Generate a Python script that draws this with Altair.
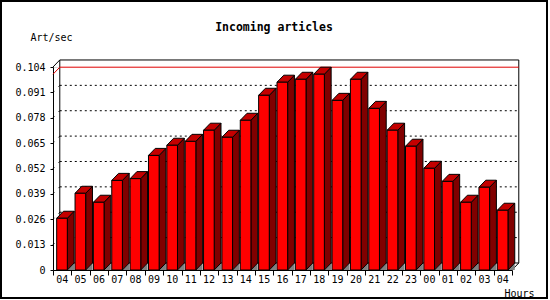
import altair as alt
import pandas as pd

# ---------------- data ----------------
hours = ["04", "05", "06", "07", "08", "09", "10", "11", "12", "13", "14", "15",
         "16", "17", "18", "19", "20", "21", "22", "23", "00", "01", "02", "03", "04"]
values = [0.0265, 0.0393, 0.0347, 0.0459, 0.0468, 0.0587, 0.0639, 0.0659, 0.0716,
          0.0680, 0.0767, 0.0895, 0.0962, 0.0977, 0.1003, 0.0869, 0.0977, 0.0828,
          0.0716, 0.0634, 0.0521, 0.0454, 0.0347, 0.0424, 0.0306]
y_ticks = [0, 0.013, 0.026, 0.039, 0.052, 0.065, 0.078, 0.091, 0.104]
chart_title = "Incoming articles"
y_title = "Art/sec"
x_title = "Hours"

# ---------------- style / 3D geometry ----------------
FONT = "DejaVu Sans Mono"
N = len(hours)
YMAX = y_ticks[-1]
DX = 0.37      # depth offset along x (band units)
DY = 0.0036    # depth offset along y (value units)
BL, BR = 0.2, 0.78  # bar front face inside each band
FRONT, TOP, SIDE, FLOOR = "#ff0000", "#c40000", "#800000", "#808080"

W, H = 459, 203
PAD = {"left": 53, "top": 67, "right": 550 - 53 - W, "bottom": 300 - 67 - H}

xs = alt.Scale(domain=[0, N], nice=False, zero=False)
ys = alt.Scale(domain=[0, YMAX], nice=False, zero=False)

# ---------------- axes (same definition in every layer so they merge) ----------------
x_axis = alt.Axis(
    values=list(range(N + 1)), labels=False, ticks=True, tickSize=5,
    tickColor="black", domain=True, domainColor="black", grid=False,
    title=x_title, titleFont=FONT, titleFontSize=10, titleFontWeight="normal",
    titleColor="black", titleAlign="right", titleBaseline="alphabetic",
    titleX=481, titleY=26.5, titleAnchor="end",
)
y_axis = alt.Axis(
    values=y_ticks, format=".3~f",
    tickSize=3, labelPadding=5, grid=False, labelOverlap=False, labelFlush=False,
    domain=True, domainColor="black", tickColor="black", labelColor="black",
    labelFont=FONT, labelFontSize=10,
    title=y_title, titleAngle=0, titleFont=FONT, titleFontSize=10,
    titleFontWeight="normal", titleColor="black", titleAlign="left",
    titleBaseline="alphabetic", titleX=-23, titleY=-27,
)


def X(f, **kw):
    return alt.X(f, type="quantitative", scale=xs, axis=x_axis, **kw)


def Y(f, **kw):
    return alt.Y(f, type="quantitative", scale=ys, axis=y_axis, **kw)


# ---------------- tables built from the arrays ----------------
front = pd.DataFrame({"i": range(N), "v": values, "hour": hours})
front["x0"] = front["i"] + BL
front["x1"] = front["i"] + BR
front["xc"] = front["i"] + 0.5
front["zero"] = 0.0

side_rows, tri_rows, top_rows = [], [], []
for i, v in enumerate(values):
    side_rows.append({"bar": i, "xs": i + BR, "lo": 0.0, "hi": v})
    side_rows.append({"bar": i, "xs": i + BR + DX, "lo": DY, "hi": v + DY})
    tri_rows.append({"bar": i, "xs": i + BR, "lo": 0.0, "hi": 0.0})
    tri_rows.append({"bar": i, "xs": i + BR + DX, "lo": 0.0, "hi": DY})
    top_rows.append({"bar": i, "yt": v, "xl": i + BL, "xr": i + BR})
    top_rows.append({"bar": i, "yt": v + DY, "xl": i + BL + DX, "xr": i + BR + DX})
side = pd.DataFrame(side_rows)
tri = pd.DataFrame(tri_rows)
topf = pd.DataFrame(top_rows)

wall = pd.DataFrame([{"x": DX, "x2": N + DX, "y": DY, "y2": YMAX + DY}])
inner = y_ticks[1:-1]
grid = pd.DataFrame({"x": [DX] * len(inner), "x2": [N + DX] * len(inner),
                     "y": [t + DY for t in inner]})
stubs = pd.DataFrame({"x": [0.0] * len(inner), "x2": [DX] * len(inner),
                      "y": inner, "y2": [t + DY for t in inner]})
vmax = max(values)
redline = pd.DataFrame([
    {"x": 0.0, "x2": DX, "y": vmax, "y2": vmax + DY},
    {"x": DX, "x2": N + DX, "y": vmax + DY, "y2": vmax + DY},
])
edges = pd.DataFrame([
    {"x": 0.0, "x2": DX, "y": YMAX, "y2": YMAX + DY},
    {"x": float(N), "x2": N + DX, "y": 0.0, "y2": DY},
])

# ---------------- layers ----------------
wall_l = alt.Chart(wall).mark_rect(fill="white", stroke="black", strokeWidth=1).encode(
    x=X("x"), x2="x2", y=Y("y"), y2="y2")

grid_l = alt.Chart(grid).mark_rule(color="black", strokeDash=[2, 3], strokeWidth=1).encode(
    x=X("x"), x2="x2", y=Y("y"))
stub_l = alt.Chart(stubs).mark_rule(color="black", strokeDash=[2, 6], strokeWidth=1).encode(
    x=X("x"), x2="x2", y=Y("y"), y2="y2")
red_l = alt.Chart(redline).mark_rule(color="#e00000", strokeWidth=1).encode(
    x=X("x"), x2="x2", y=Y("y"), y2="y2")
edge_l = alt.Chart(edges).mark_rule(color="black", strokeWidth=1).encode(
    x=X("x"), x2="x2", y=Y("y"), y2="y2")

tri_l = alt.Chart(tri).mark_area(fill=FLOOR, strokeWidth=0, interpolate="linear").encode(
    x=X("xs"), y=Y("lo", stack=None), y2="hi", detail="bar:N")
side_l = alt.Chart(side).mark_area(fill=SIDE, stroke="black", strokeWidth=1,
                                   interpolate="linear").encode(
    x=X("xs"), y=Y("lo", stack=None), y2="hi", detail="bar:N")
top_l = alt.Chart(topf).mark_area(fill=TOP, stroke="black", strokeWidth=1,
                                  orient="horizontal", interpolate="linear").encode(
    y=Y("yt"), x=X("xl", stack=None), x2="xr", detail="bar:N")

front_l = alt.Chart(front).mark_rect(fill=FRONT, stroke="black", strokeWidth=1).encode(
    x=X("x0"), x2="x1", y=Y("zero"), y2="v")

hour_l = alt.Chart(front).mark_text(font=FONT, fontSize=10, color="black",
                                    baseline="alphabetic", align="center", dy=13).encode(
    x=X("xc"), y=Y("zero"), text="hour:N")

# outer frame of the picture
border = alt.Chart(pd.DataFrame({"a": [0]})).mark_rect(
    fill="transparent", stroke="black", strokeWidth=2
).encode(x=alt.value(-52), x2=alt.value(494), y=alt.value(-66), y2=alt.value(231))

chart = alt.layer(
    wall_l, grid_l, stub_l, red_l, edge_l, tri_l, side_l, top_l, front_l, hour_l, border
).properties(
    width=W, height=H, autosize="none", padding=PAD,
    title=alt.TitleParams(text=chart_title, font=FONT, fontSize=11.5, fontWeight="bold",
                          anchor="middle", frame="group", dx=-8.5, offset=-42,
                          baseline="alphabetic", color="black"),
).configure_view(stroke=None).configure(background="white")

chart.save("out.html", embed_options={"renderer": "svg", "actions": False})
